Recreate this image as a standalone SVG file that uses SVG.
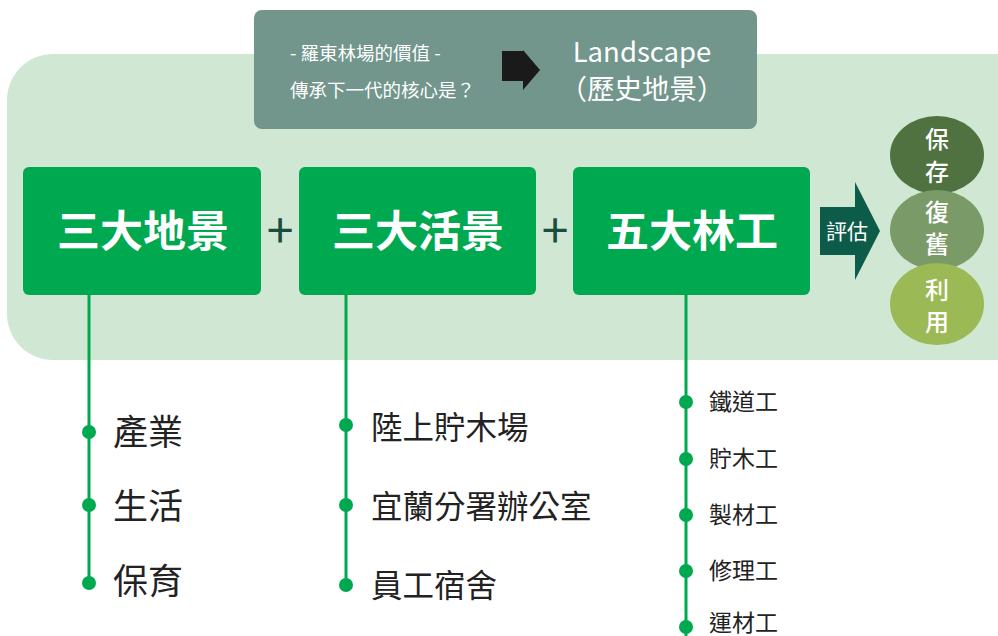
<svg xmlns="http://www.w3.org/2000/svg" width="998" height="636" viewBox="0 0 998 636">
<style>
.t{font-family:"Noto Sans CJK TC","Noto Sans",sans-serif}
.box{fill:#00a94f}
.bt{font-size:43px;font-weight:700;fill:#fff;text-anchor:middle}
.plus{font-size:48px;fill:#1b4d3e;text-anchor:middle}
.line{stroke:#00a94f;stroke-width:3;fill:none}
.dot{fill:#00a94f}
.l1{font-size:35px;fill:#222}
.l2{font-size:31.5px;fill:#222}
.l3{font-size:23px;fill:#222}
.ct{font-size:24px;fill:#fff;text-anchor:middle;font-weight:500}
</style>
<rect x="7" y="54" width="1040" height="306" rx="46" fill="#cfe7d3"/>
<g id="question">
<rect x="254" y="10" width="503" height="119" rx="8" fill="#72968c"/>
<text class="t" x="290" y="60" font-size="18.5" fill="#fff">- 羅東林場的價值 -</text>
<text class="t" x="290" y="97" font-size="18.5" fill="#fff">傳承下一代的核心是？</text>
<polygon points="502,51 523,51 523,50 540,70 523,90 523,81 502,81" fill="#1a1a1a"/>
<text class="t" x="642" y="62" font-size="27.5" fill="#fff" text-anchor="middle">Landscape</text>
<text class="t" x="642" y="99" font-size="27.5" fill="#fff" text-anchor="middle">（歷史地景）</text>
</g>
<g id="connectors">
<line class="line" x1="89" y1="295" x2="89" y2="585"/>
<line class="line" x1="346" y1="295" x2="346" y2="585"/>
<line class="line" x1="686" y1="295" x2="686" y2="636"/>
<circle class="dot" cx="89" cy="432" r="7"/>
<circle class="dot" cx="89" cy="505" r="7"/>
<circle class="dot" cx="89" cy="583" r="7"/>
<circle class="dot" cx="346" cy="425" r="7"/>
<circle class="dot" cx="346" cy="505" r="7"/>
<circle class="dot" cx="346" cy="585" r="7"/>
<circle class="dot" cx="686" cy="402" r="7"/>
<circle class="dot" cx="686" cy="459" r="7"/>
<circle class="dot" cx="686" cy="515" r="7"/>
<circle class="dot" cx="686" cy="571" r="7"/>
<circle class="dot" cx="686" cy="627" r="7"/>
</g>
<g id="landscape">
<rect class="box" x="23" y="167" width="238" height="128" rx="6"/>
<text class="t bt" x="143" y="247">三大地景</text>
</g>
<text class="t plus" x="280" y="248">+</text>
<g id="life">
<rect class="box" x="299" y="167" width="237" height="128" rx="6"/>
<text class="t bt" x="418" y="247">三大活景</text>
</g>
<text class="t plus" x="555" y="248">+</text>
<g id="work">
<rect class="box" x="573" y="167" width="237" height="128" rx="6"/>
<text class="t bt" x="692" y="247">五大林工</text>
</g>
<g id="evaluate">
<polygon points="820,207 855,207 855,182 880,231 855,280 855,255 820,255" fill="#0d5c4a"/>
<text class="t" x="847" y="239" font-size="21" fill="#fff" text-anchor="middle">評估</text>
</g>
<g id="preserve">
<ellipse cx="937" cy="155" rx="47" ry="39" fill="#4f7240"/>
<text class="t ct" x="937" y="148">保</text>
<text class="t ct" x="937" y="181">存</text>
</g>
<g id="restore">
<ellipse cx="937" cy="230" rx="47" ry="40" fill="#7a9a68"/>
<text class="t ct" x="937" y="221">復</text>
<text class="t ct" x="937" y="253">舊</text>
</g>
<g id="use">
<ellipse cx="937" cy="304" rx="47" ry="41" fill="#9bb954"/>
<text class="t ct" x="937" y="299">利</text>
<text class="t ct" x="937" y="331">用</text>
</g>
<g id="list1">
<text class="t l1" x="113" y="445">產業</text>
<text class="t l1" x="113" y="519">生活</text>
<text class="t l1" x="113" y="594">保育</text>
</g>
<g id="list2">
<text class="t l2" x="371" y="439">陸上貯木場</text>
<text class="t l2" x="371" y="518">宜蘭分署辦公室</text>
<text class="t l2" x="371" y="597">員工宿舍</text>
</g>
<g id="list3">
<text class="t l3" x="709" y="410">鐵道工</text>
<text class="t l3" x="709" y="467">貯木工</text>
<text class="t l3" x="709" y="523">製材工</text>
<text class="t l3" x="709" y="579">修理工</text>
<text class="t l3" x="709" y="631">運材工</text>
</g>
</svg>
